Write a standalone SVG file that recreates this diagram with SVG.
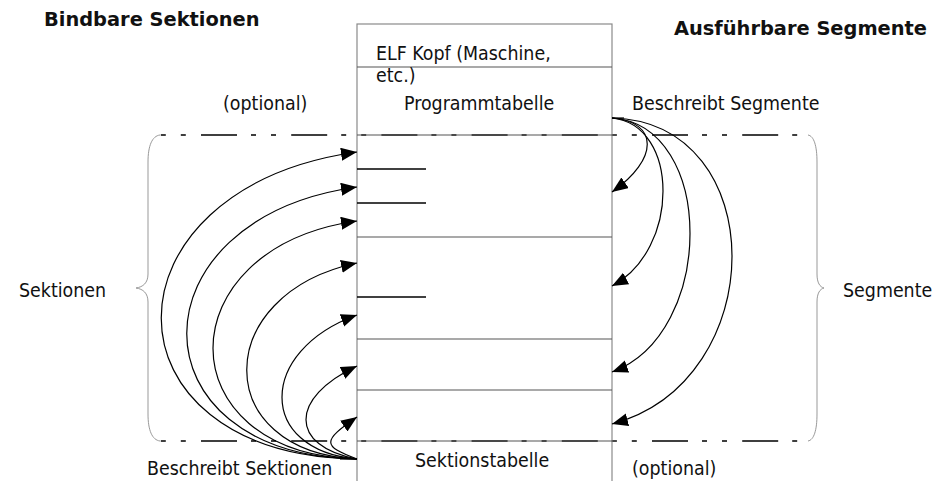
<svg xmlns="http://www.w3.org/2000/svg" width="948" height="481" viewBox="0 0 948 481">
<style>
  .t { font-family: "DejaVu Sans Condensed", "DejaVu Sans", sans-serif; font-stretch: condensed; font-size: 19.4px; fill: #111; }
  .b { font-family: "DejaVu Sans", sans-serif; font-weight: bold; font-size: 19.4px; fill: #111; }
  .frame { fill: none; stroke: #8a8a8a; stroke-width: 1.2; }
  .div { stroke: #555; stroke-width: 1.2; }
  .short { stroke: #000; stroke-width: 1.3; }
  .dash { fill: none; stroke: #000; stroke-width: 1.3; stroke-dasharray: 36 14 5 15 5 15.2; stroke-dashoffset: 49.2; }
  .brace { fill: none; stroke: #999; stroke-width: 1; }
  .conn { fill: none; stroke: #000; stroke-width: 1.2; marker-end: url(#arr); }
</style>
<defs>
  <marker id="arr" markerUnits="userSpaceOnUse" markerWidth="17" markerHeight="14" refX="16" refY="6.5" orient="auto">
    <path d="M0,0 L16,6.5 L0,13 z" fill="#000"/>
  </marker>
</defs>
<rect width="948" height="481" fill="#fff"/>

<g id="titles">
  <text class="b" x="44" y="26">Bindbare Sektionen</text>
  <text class="b" x="674" y="35">Ausführbare Segmente</text>
</g>

<g id="guides">
  <path class="dash" d="M160,135 H800"/>
  <path class="dash" d="M160,441 H800"/>
</g>

<g id="elf-file">
  <rect class="frame" x="357" y="24" width="255" height="470"/>
  <line class="div" x1="357" y1="67" x2="612" y2="67"/>
  <line class="div" x1="357" y1="135" x2="617" y2="135"/>
  <line class="div" x1="357" y1="237" x2="612" y2="237"/>
  <line class="div" x1="357" y1="339" x2="612" y2="339"/>
  <line class="div" x1="357" y1="390" x2="612" y2="390"/>
  <line class="div" x1="357" y1="441" x2="617" y2="441"/>
  <line class="short" x1="357" y1="169" x2="426" y2="169"/>
  <line class="short" x1="357" y1="203" x2="426" y2="203"/>
  <line class="short" x1="357" y1="297" x2="426" y2="297"/>
  <text class="t" x="376" y="60">ELF Kopf (Maschine,</text>
  <text class="t" x="376" y="82">etc.)</text>
  <text class="t" x="404" y="110">Programmtabelle</text>
  <text class="t" x="415" y="467">Sektionstabelle</text>
</g>

<g id="labels">
  <text class="t" x="223" y="110">(optional)</text>
  <text class="t" x="632" y="110">Beschreibt Segmente</text>
  <text class="t" x="19" y="297">Sektionen</text>
  <text class="t" x="843" y="297">Segmente</text>
  <text class="t" x="147" y="475">Beschreibt Sektionen</text>
  <text class="t" x="632" y="475">(optional)</text>
</g>

<g id="braces">
  <path class="brace" d="M160,135 C152,136 148,146 148,162 L148,274 C148,283 143,287 136,288 C143,289 148,293 148,302 L148,414 C148,430 152,440 160,441"/>
  <path class="brace" d="M808,135 C814,136 817,146 817,162 L817,274 C817,283 820,287 824,288 C820,289 817,293 817,302 L817,414 C817,430 814,440 808,441"/>
</g>

<g id="connectors">
  <line x1="340" y1="459" x2="357" y2="459" stroke="#000" stroke-width="1.2"/>
  <path class="conn" d="M357,459 C96,455 96,189 357,152"/>
  <path class="conn" d="M357,459 C130,455 130,219 357,187"/>
  <path class="conn" d="M357,459 C165,454 165,248 357,221"/>
  <path class="conn" d="M357,459 C210,452 210,294 357,263"/>
  <path class="conn" d="M357,459 C257,450 257,351 357,315"/>
  <path class="conn" d="M357,459 C289,446 289,398 357,366"/>
  <path class="conn" d="M357,459 C322,446 322,441 357,417"/>
  <line x1="612" y1="118" x2="624" y2="118" stroke="#000" stroke-width="1.2"/>
  <path class="conn" d="M612,118 C659,122 659,159 612,192"/>
  <path class="conn" d="M612,118 C680,125 680,250 612,286"/>
  <path class="conn" d="M612,118 C716,125 716,334 612,372"/>
  <path class="conn" d="M612,118 C772,122 772,381 612,424"/>
</g>
</svg>
